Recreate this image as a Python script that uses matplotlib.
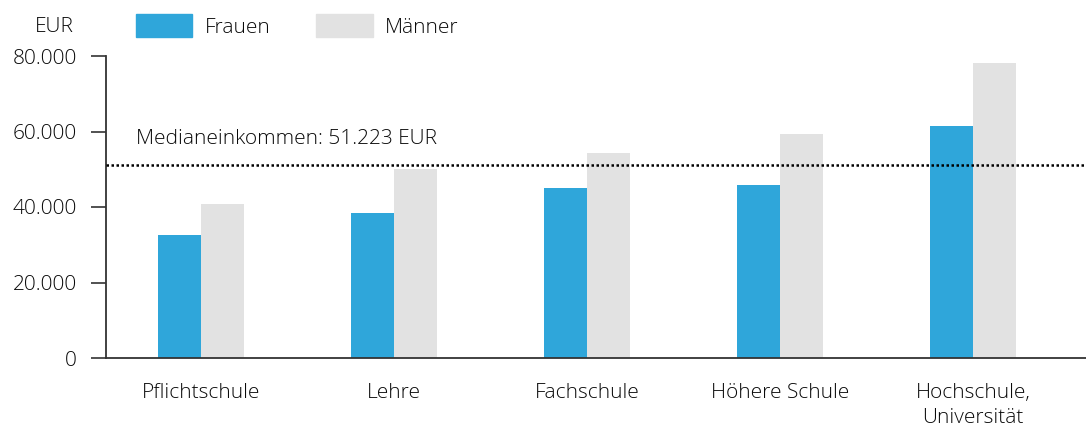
import numpy as np
import matplotlib
matplotlib.use("Agg")
import matplotlib.pyplot as plt
from matplotlib.patches import Patch

plt.rcParams['font.family'] = ['Open Sans', 'DejaVu Sans']
plt.rcParams['font.weight'] = 'light'

# data (EUR)
categories = ["Pflichtschule", "Lehre", "Fachschule", "Höhere Schule", "Hochschule,\nUniversität"]
frauen = [32600, 38400, 45000, 45800, 61500]
maenner = [40800, 50100, 54300, 59300, 78100]
median = 51223
yticks = [0, 20000, 40000, 60000, 80000]
ytick_labels = ["0", "20.000", "40.000", "60.000", "80.000"]

col_f = "#2fa6da"
col_m = "#e2e2e2"
txt = "#0a0a0a"
fs = 15

fig = plt.figure(figsize=(10.86, 4.32), dpi=100)
ax = fig.add_axes([106/1086, 1 - 358/432, 1 - 106/1086, (358 - 56)/432])

x = np.arange(len(categories))
w = 0.223
ax.bar(x - w/2, frauen, w, color=col_f, zorder=2)
ax.bar(x + w/2, maenner, w, color=col_m, zorder=2)

# median line + label
ax.axhline(median, color="black", lw=1.8, dashes=(1, 1), zorder=3)
ax.text(136/1086, 1 - 139/432, "Medianeinkommen: 51.223 EUR", transform=fig.transFigure,
        fontsize=fs, color=txt, va="center", ha="left")

ax.set_xlim(-0.49, 4.585)
ax.set_ylim(0, 80000)
ax.set_yticks(yticks)
ax.set_yticklabels(ytick_labels)
ax.set_xticks(x)
ax.set_xticklabels(categories, linespacing=1.35)
ax.tick_params(axis="y", length=11, width=1.2, color="#333333", pad=10, labelsize=fs, labelcolor=txt)
ax.tick_params(axis="x", length=0, pad=18, labelsize=fs, labelcolor=txt)

for s in ["top", "right"]:
    ax.spines[s].set_visible(False)
for s in ["left", "bottom"]:
    ax.spines[s].set_linewidth(1.3)
    ax.spines[s].set_color("#333333")

fig.text(74/1086, 1 - 27/432, "EUR", fontsize=fs, color=txt, ha="right", va="center")

handles = [Patch(color=col_f, label="Frauen"), Patch(color=col_m, label="Männer")]
fig.legend(handles=handles, loc="center left", bbox_to_anchor=(136/1086, 1 - 26/432),
           ncol=2, frameon=False, fontsize=fs, handlelength=2.7, handleheight=1.3,
           handletextpad=0.6, columnspacing=2.2, borderpad=0, borderaxespad=0,
           labelcolor=txt)

fig.savefig("out.png", dpi=100)
